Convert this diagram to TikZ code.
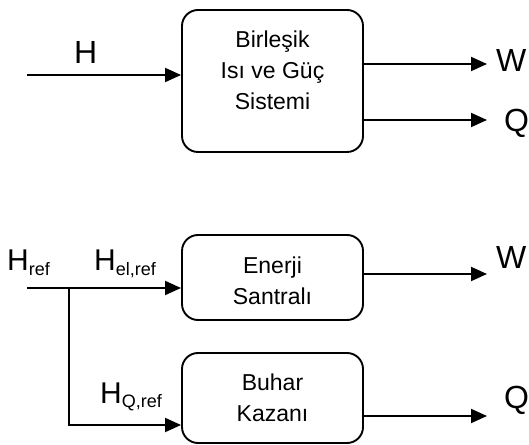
\documentclass[tikz,border=0pt]{standalone}
\usepackage{fontspec}
\setmainfont{Liberation Sans}
\usetikzlibrary{arrows.meta}

% small lowered index for the flow labels
\newcommand{\indis}[1]{\raisebox{-0.15em}{\fontsize{18}{18}\selectfont #1}}

\begin{document}
\begin{tikzpicture}[x=1pt,y=1pt,
        blok/.style={draw, line width=1.9pt, rounded corners=16pt, minimum width=181pt},
        metin/.style={align=center, inner sep=0pt, font=\fontsize{23}{31}\selectfont},
        akis/.style={line width=1.9pt, -{Triangle[length=16pt,width=14pt]}},
        buyuk/.style={inner sep=0pt, anchor=base west, font=\fontsize{32}{32}\selectfont},
        orta/.style={inner sep=0pt, anchor=base west, font=\fontsize{30}{30}\selectfont}]
\useasboundingbox (0,0) rectangle (529,444);

% combined heat and power unit
\node[blok, minimum height=142pt] (bisg) at (272.5,363) {};
\node[metin] (bisgyazi) at ([yshift=11pt]bisg.center) {Birleşik\\Isı ve Güç\\Sistemi};
\coordinate (hgir) at (27,369);
\coordinate (wcik) at (487,380);
\coordinate (qcik) at (487,324);
\draw[akis] (hgir) -- (hgir -| bisg.west);
\draw[akis] (wcik -| bisg.east) -- (wcik);
\draw[akis] (qcik -| bisg.east) -- (qcik);
\node[buyuk] (h) at (74,380) {H};
\node[buyuk] (w1) at (496,372) {W};
\node[buyuk] (q1) at (504,312) {Q};

% separate production: power plant + steam boiler
\node[blok, minimum height=85pt] (santral) at (272.5,166.5) {};
\node[metin] (santralyazi) at ([yshift=-3pt]santral.center) {Enerji\\Santralı};
\node[blok, minimum height=90pt] (kazan) at (272.5,46) {};
\node[metin] (kazanyazi) at (kazan.center) {Buhar\\Kazanı};
\coordinate (hrefgir) at (27,156);
\coordinate (ayrim) at (69,156);
\coordinate (kose) at (69,19);
\coordinate (w2cik) at (487,170);
\coordinate (q2cik) at (487,28);
\draw[akis] (hrefgir) -- (hrefgir -| santral.west);
\draw[akis] (ayrim) -- (kose) -- (kose -| kazan.west);
\draw[akis] (w2cik -| santral.east) -- (w2cik);
\draw[akis] (q2cik -| kazan.east) -- (q2cik);
\node[orta] (href) at (7,173) {H\indis{ref}};
\node[orta] (helref) at (94,173) {H\indis{el,ref}};
\node[orta] (hqref) at (100,41) {H\indis{Q,ref}};
\node[buyuk] (w2) at (496,175) {W};
\node[buyuk] (q2) at (504,36) {Q};
\end{tikzpicture}
\end{document}
